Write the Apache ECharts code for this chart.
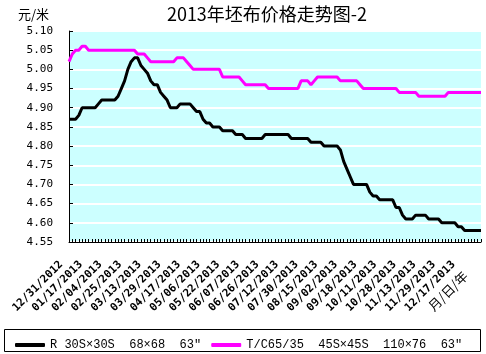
<!DOCTYPE html>
<html lang="zh">
<head>
    <meta charset="UTF-8">
    <script src="https://cdn.jsdelivr.net/npm/echarts@6/dist/echarts.min.js"></script>
    <style>
        html, body { margin: 0; padding: 0; background: #fff; }
        #main { width: 486px; height: 354px; }
    </style>
</head>
<body>
<div id="main"></div>
<script>
    // 横轴每 6 个交易点标一个日期
    var tickLabels = ['12/31/2012', '01/17/2013', '02/04/2013', '02/25/2013', '03/13/2013', '03/29/2013',
        '04/17/2013', '05/06/2013', '05/22/2013', '06/07/2013', '06/26/2013', '07/12/2013', '07/30/2013',
        '08/15/2013', '09/02/2013', '09/18/2013', '10/11/2013', '10/28/2013', '11/13/2013', '11/29/2013',
        '12/17/2013']
    var labelStep = 6

    var rName = 'R 30S×30S  68×68  63″'
    var rValues = [
        4.87, 4.87, 4.87, 4.88, 4.90, 4.90, 4.90, 4.90, 4.90, 4.91,
        4.92, 4.92, 4.92, 4.92, 4.92, 4.93, 4.95, 4.97, 5.00, 5.02,
        5.03, 5.03, 5.01, 5.00, 4.99, 4.97, 4.96, 4.96, 4.94, 4.93,
        4.92, 4.90, 4.90, 4.90, 4.91, 4.91, 4.91, 4.91, 4.90, 4.89,
        4.89, 4.87, 4.86, 4.86, 4.85, 4.85, 4.85, 4.84, 4.84, 4.84,
        4.84, 4.83, 4.83, 4.83, 4.82, 4.82, 4.82, 4.82, 4.82, 4.82,
        4.83, 4.83, 4.83, 4.83, 4.83, 4.83, 4.83, 4.83, 4.82, 4.82,
        4.82, 4.82, 4.82, 4.82, 4.81, 4.81, 4.81, 4.81, 4.80, 4.80,
        4.80, 4.80, 4.80, 4.79, 4.76, 4.74, 4.72, 4.70, 4.70, 4.70,
        4.70, 4.70, 4.68, 4.67, 4.67, 4.66, 4.66, 4.66, 4.66, 4.66,
        4.64, 4.64, 4.62, 4.61, 4.61, 4.61, 4.62, 4.62, 4.62, 4.62,
        4.61, 4.61, 4.61, 4.61, 4.60, 4.60, 4.60, 4.60, 4.60, 4.59,
        4.59, 4.58, 4.58, 4.58, 4.58, 4.58, 4.58
    ]

    var tcName = 'T/C65/35  45S×45S  110×76  63″'
    var tcValues = [
        5.02, 5.04, 5.05, 5.05, 5.06, 5.06, 5.05, 5.05, 5.05, 5.05,
        5.05, 5.05, 5.05, 5.05, 5.05, 5.05, 5.05, 5.05, 5.05, 5.05,
        5.05, 5.04, 5.04, 5.04, 5.03, 5.02, 5.02, 5.02, 5.02, 5.02,
        5.02, 5.02, 5.02, 5.03, 5.03, 5.03, 5.02, 5.01, 5.00, 5.00,
        5.00, 5.00, 5.00, 5.00, 5.00, 5.00, 5.00, 4.98, 4.98, 4.98,
        4.98, 4.98, 4.98, 4.97, 4.96, 4.96, 4.96, 4.96, 4.96, 4.96,
        4.96, 4.95, 4.95, 4.95, 4.95, 4.95, 4.95, 4.95, 4.95, 4.95,
        4.95, 4.97, 4.97, 4.97, 4.96, 4.97, 4.98, 4.98, 4.98, 4.98,
        4.98, 4.98, 4.98, 4.97, 4.97, 4.97, 4.97, 4.97, 4.97, 4.96,
        4.95, 4.95, 4.95, 4.95, 4.95, 4.95, 4.95, 4.95, 4.95, 4.95,
        4.95, 4.94, 4.94, 4.94, 4.94, 4.94, 4.94, 4.93, 4.93, 4.93,
        4.93, 4.93, 4.93, 4.93, 4.93, 4.93, 4.94, 4.94, 4.94, 4.94,
        4.94, 4.94, 4.94, 4.94, 4.94, 4.94, 4.94
    ]

    var categories = rValues.map(function (v, i) { return String(i) })

    var chart = echarts.init(document.getElementById('main'))
    chart.setOption({
        animation: false,
        grid: {
            left: 69, right: 5, top: 31, bottom: 112,
            show: true, backgroundColor: '#ccffff', borderWidth: 0
        },
        graphic: [
            {
                type: 'text', x: 267, y: 14,
                style: {
                    text: '2013年坯布价格走势图-2', font: '18px "Noto Sans CJK SC"', fill: '#000',
                    align: 'center', verticalAlign: 'middle', textAlign: 'center', textVerticalAlign: 'middle'
                }
            },
            {
                type: 'text', x: 18, y: 14,
                style: {
                    text: '元/米', font: '13px "Noto Sans CJK SC"', fill: '#000',
                    align: 'left', verticalAlign: 'middle', textAlign: 'left', textVerticalAlign: 'middle'
                }
            },
            {
                type: 'text', x: 448, y: 291, rotation: Math.PI / 4,
                style: {
                    text: '月/日/年', font: '13px "Noto Sans CJK SC"', fill: '#000',
                    align: 'center', verticalAlign: 'middle', textAlign: 'center', textVerticalAlign: 'middle'
                }
            },
            {
                type: 'rect', shape: { x: 4.5, y: 329.5, width: 476, height: 22 },
                style: { fill: 'none', stroke: '#000', lineWidth: 1 }
            }
        ],
        legend: {
            left: 10, top: 334, itemGap: 10,
            itemWidth: 30, itemHeight: 4, icon: 'roundRect',
            textStyle: { fontFamily: 'Liberation Mono', fontSize: 12, color: '#000' },
            data: [rName, tcName]
        },
        xAxis: {
            type: 'category',
            data: categories,
            boundaryGap: false,
            axisLine: { lineStyle: { color: '#000', width: 1 } },
            axisTick: { interval: 0, inside: true, length: 3, lineStyle: { color: '#000' } },
            axisLabel: {
                rotate: 45, margin: 13, padding: [0, 11, 0, 0],
                fontFamily: 'DejaVu Sans Mono', fontWeight: 'bold', fontSize: 11, color: '#000',
                interval: function (idx) { return idx % labelStep === 0 && idx / labelStep < tickLabels.length },
                formatter: function (v, idx) { return tickLabels[idx / labelStep] || '' }
            },
            splitLine: { show: false }
        },
        yAxis: {
            type: 'value',
            min: 4.55, max: 5.10, interval: 0.05,
            axisLine: { show: true, lineStyle: { color: '#000', width: 1 } },
            axisTick: { show: true, inside: true, length: 4, lineStyle: { color: '#000' } },
            axisLabel: {
                margin: 16, fontFamily: 'DejaVu Sans Mono', fontSize: 11, color: '#000',
                formatter: function (v) { return v.toFixed(2) }
            },
            splitLine: { lineStyle: { color: '#fff', width: 2 } }
        },
        series: [
            {
                name: rName, type: 'line', data: rValues,
                showSymbol: false, color: '#000',
                lineStyle: { width: 3, color: '#000' }
            },
            {
                name: tcName, type: 'line', data: tcValues,
                showSymbol: false, color: '#ff00ff',
                lineStyle: { width: 3, color: '#ff00ff' }
            }
        ]
    })
</script>
</body>
</html>
